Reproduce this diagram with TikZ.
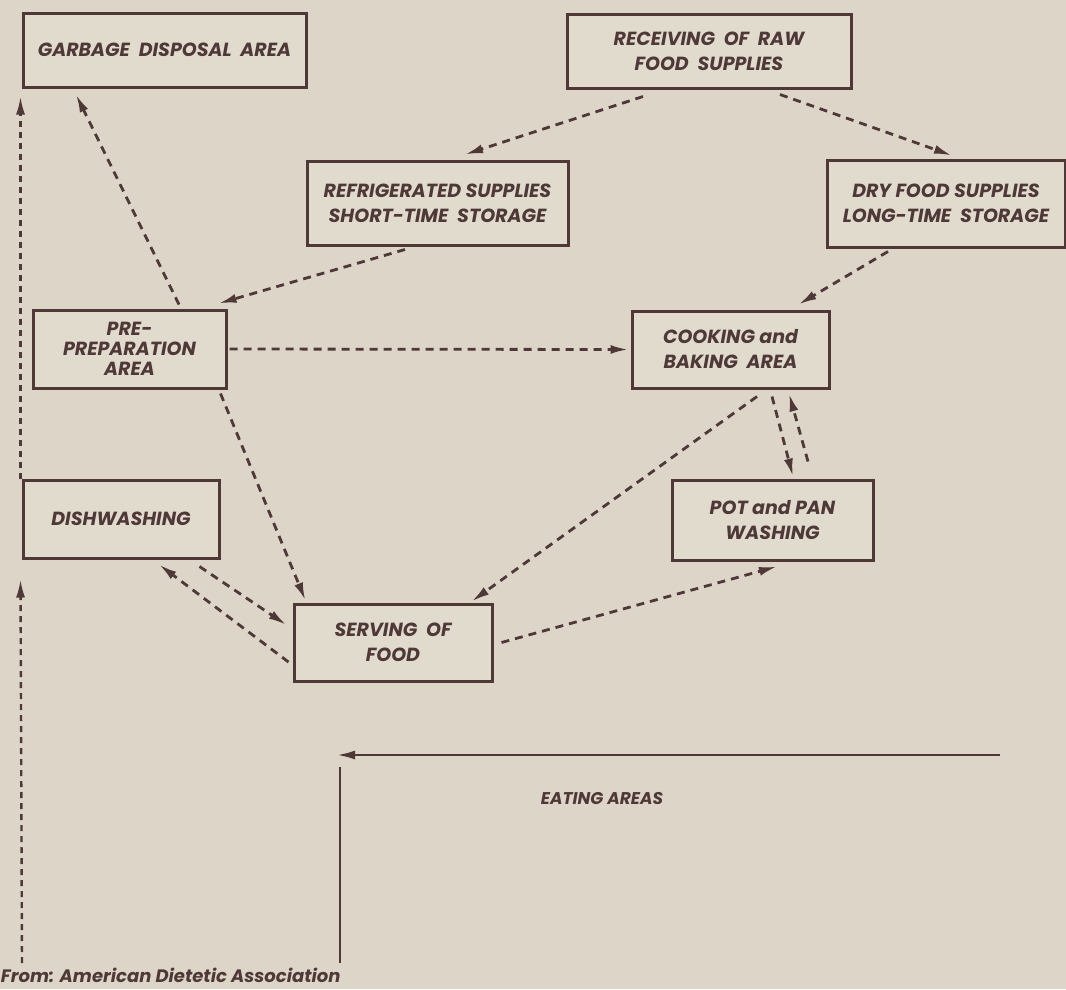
\documentclass[tikz,border=0pt]{standalone}
\usepackage{fontspec}
\setmainfont{Poppins}
\usetikzlibrary{arrows.meta}

\definecolor{paper}{RGB}{221,214,200}
\definecolor{boxpaper}{RGB}{225,219,206}
\definecolor{ink}{RGB}{78,56,56}

\def\areafont{\fontsize{19}{25}\selectfont\bfseries\itshape}

\begin{document}
\begin{tikzpicture}[x=1pt,y=-1pt,line width=2pt,draw=ink,text=ink]
    \tikzstyle{area}=[draw=ink,line width=3pt,fill=boxpaper,align=center,inner sep=0pt,font=\areafont]
    \tikzstyle{flow}=[draw=ink,line width=2.8pt,dash pattern=on 8pt off 6pt,-{Latex[length=18pt,width=9pt]}]
    \tikzstyle{solidflow}=[draw=ink,line width=2.4pt,-{Latex[length=18pt,width=9pt]}]

    % Paper and margins
    \fill[paper] (0,0) rectangle (1066,989);
    \useasboundingbox (0,0) rectangle (1066,989);

    % Draw the areas
    \node[area,minimum width=283pt,minimum height=74pt] (garb) at (164.5,50) {GARBAGE\ \ DISPOSAL\ \ AREA};
    \node[area,minimum width=284pt,minimum height=74pt] (recv) at (709,51) {RECEIVING\ \ OF\ \ RAW\\FOOD\ \ SUPPLIES};
    \node[area,minimum width=261pt,minimum height=84pt] (refr) at (437.5,203) {REFRIGERATED\ SUPPLIES\\SHORT-TIME\ \ STORAGE};
    \node[area,minimum width=238pt,minimum height=87pt] (dry) at (946,203.5) {DRY FOOD SUPPLIES\\LONG-TIME\ \ STORAGE};
    \node[area,minimum width=193pt,minimum height=78pt,font=\fontsize{19}{20}\selectfont\bfseries\itshape] (prep) at (129.5,349) {PRE-\\PREPARATION\\AREA};
    \node[area,minimum width=197pt,minimum height=77pt] (cook) at (730.5,349.5) {COOKING\ and\\BAKING\ \ AREA};
    \node[area,minimum width=201pt,minimum height=80pt] (pot) at (772.5,520) {POT\ and\ PAN\\WASHING};
    \node[area,minimum width=196pt,minimum height=78pt] (dish) at (121,519) {DISHWASHING};
    \node[area,minimum width=198pt,minimum height=77pt] (serv) at (393,642.5) {SERVING\ \ OF\\FOOD};

    % Supplies coming in
    \draw[flow] ([xshift=-66pt,yshift=-7pt]recv.south) -- ([xshift=27.5pt,yshift=5pt]refr.north);
    \draw[flow] ([xshift=71pt,yshift=-5pt]recv.south) -- ([xshift=6pt,yshift=3pt]dry.north);
    \draw[flow] ([xshift=-32.5pt,yshift=-3pt]refr.south) -- ([xshift=-9pt,yshift=5pt]prep.north east);
    \draw[flow] ([xshift=-58pt,yshift=-3pt]dry.south) -- ([xshift=-32pt,yshift=5pt]cook.north east);

    % Pre-preparation out
    \draw[flow] ([xshift=2pt]prep.east) -- ([xshift=-2pt]cook.west);
    \draw[flow] ([xshift=49.5pt,yshift=4pt]prep.north) -- ([xshift=-88.5pt,yshift=-6pt]garb.south);
    \draw[flow] ([xshift=-7pt,yshift=-4pt]prep.south east) -- ([xshift=13pt,yshift=2pt]serv.north west);

    % Cooking, pots and pans
    \draw[flow] ([xshift=26.5pt,yshift=-7pt]cook.south) -- ([xshift=-22pt,yshift=1pt]serv.north east);
    \draw[flow] ([xshift=41.5pt,yshift=-7pt]cook.south) -- ([xshift=20.5pt,yshift=2pt]pot.north);
    \draw[flow] ([xshift=35.5pt,yshift=17pt]pot.north) -- ([xshift=58.5pt,yshift=-4pt]cook.south);

    % Serving and dishwashing
    \draw[flow] ([xshift=-21pt,yshift=-7pt]dish.south east) -- ([xshift=-6pt,yshift=17.5pt]serv.west);
    \draw[flow] ([xshift=-4pt,yshift=-19.5pt]serv.west) -- ([xshift=38pt,yshift=-5pt]dish.south);
    \draw[flow] ([xshift=8pt]serv.east) -- ([xshift=4.5pt,yshift=-5pt]pot.south);

    % Return line up the left side
    \coordinate (back) at (22,963);
    \draw[flow,line width=2.4pt,dash pattern=on 6pt off 5pt] (back) -- ([xshift=-1pt,yshift=-20pt]dish.south west);
    \draw[flow,line width=2.4pt,dash pattern=on 6pt off 5pt] ([xshift=-1pt]dish.north west) -- ([xshift=-1pt,yshift=-8pt]garb.south west);

    % Eating areas
    \coordinate (eatR) at (1000,755);
    \coordinate (eatL) at (337,755);
    \coordinate (eatT) at (340,767);
    \coordinate (eatB) at (340,963);
    \draw[solidflow] (eatR) -- (eatL);
    \draw[line width=2.4pt] (eatT) -- (eatB);
    \node[font=\fontsize{17}{20}\selectfont\bfseries\itshape] (eat) at (602,798) {EATING AREAS};

    % Source
    \node[anchor=west,inner sep=0pt,font=\fontsize{18}{20}\selectfont\bfseries\itshape] (src) at (0,975) {From: American Dietetic Association};
\end{tikzpicture}
\end{document}
